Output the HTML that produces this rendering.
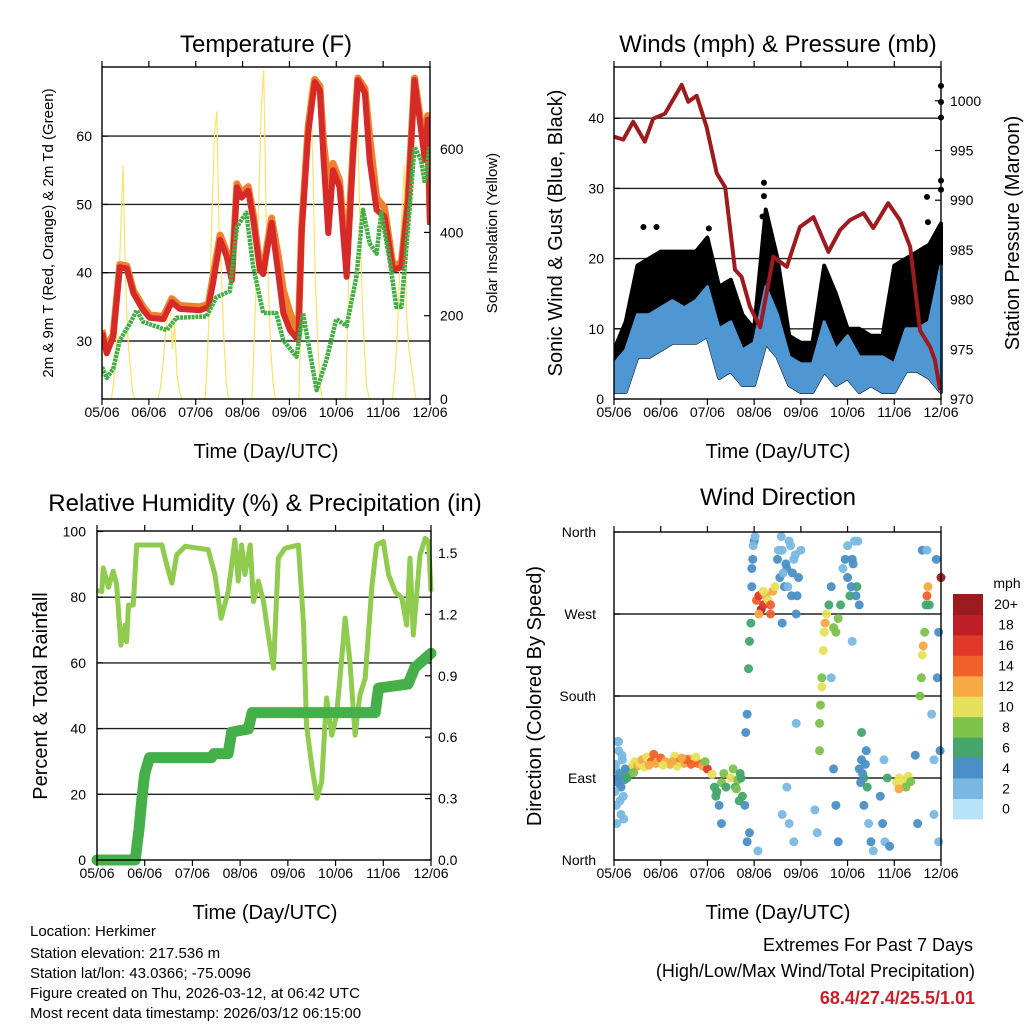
<!DOCTYPE html>
<html><head><meta charset="utf-8">
<style>
html,body{margin:0;padding:0;background:#fff;}
svg{display:block;font-family:"Liberation Sans",sans-serif;}
</style></head>
<body>
<svg id="chart" width="1024" height="1024" viewBox="0 0 1024 1024" xmlns="http://www.w3.org/2000/svg">
<rect x="0" y="0" width="1024" height="1024" fill="#fff"/>
<g id="layer"></g>
<text x="266" y="52" font-size="24" text-anchor="middle">Temperature (F)</text>
<text x="778" y="52" font-size="24" text-anchor="middle">Winds (mph) &amp; Pressure (mb)</text>
<text x="265" y="511" font-size="24" text-anchor="middle">Relative Humidity (%) &amp; Precipitation (in)</text>
<text x="778" y="505" font-size="24" text-anchor="middle">Wind Direction</text>
<text x="266" y="458" font-size="20" text-anchor="middle">Time (Day/UTC)</text>
<text x="778" y="458" font-size="20" text-anchor="middle">Time (Day/UTC)</text>
<text x="265" y="919" font-size="20" text-anchor="middle">Time (Day/UTC)</text>
<text x="778" y="919" font-size="20" text-anchor="middle">Time (Day/UTC)</text>
<text transform="translate(53,233) rotate(-90)" font-size="15" text-anchor="middle">2m &amp; 9m T (Red, Orange) &amp; 2m Td (Green)</text>
<text transform="translate(497,233) rotate(-90)" font-size="15" text-anchor="middle">Solar Insolation (Yellow)</text>
<text transform="translate(562,233) rotate(-90)" font-size="20" text-anchor="middle">Sonic Wind &amp; Gust (Blue, Black)</text>
<text transform="translate(1019,233) rotate(-90)" font-size="20" text-anchor="middle">Station Pressure (Maroon)</text>
<text transform="translate(47,696) rotate(-90)" font-size="20" text-anchor="middle">Percent &amp; Total Rainfall</text>
<text transform="translate(541,696) rotate(-90)" font-size="20" text-anchor="middle">Direction (Colored By Speed)</text>
<g font-size="15">
<text x="30" y="936">Location: Herkimer</text>
<text x="30" y="958">Station elevation: 217.536 m</text>
<text x="30" y="978">Station lat/lon: 43.0366; -75.0096</text>
<text x="30" y="998">Figure created on Thu, 2026-03-12, at 06:42 UTC</text>
<text x="30" y="1018">Most recent data timestamp: 2026/03/12 06:15:00</text>
</g>
<text x="973" y="951" font-size="18" text-anchor="end">Extremes For Past 7 Days</text>
<text x="975" y="977" font-size="18" text-anchor="end">(High/Low/Max Wind/Total Precipitation)</text>
<text x="975" y="1004" font-size="18" font-weight="bold" fill="#c8202a" text-anchor="end">68.4/27.4/25.5/1.01</text>
</svg>
<script>
const dayLabels=["05/06","06/06","07/06","08/06","09/06","10/06","11/06","12/06"];
const tempTicks=[30,40,50,60];
const solarTicks=[0,200,400,600];
const windTicks=[0,10,20,30,40];
const pressTicks=[970,975,980,985,990,995,1000];
const rhTicks=[0,20,40,60,80,100];
const rainTicks=[0.0,0.3,0.6,0.9,1.2,1.5];
const rainTickLabels=["0.0","0.3","0.6","0.9","1.2","1.5"];
const dirTicks=[0,90,180,270,360];
const dirTickLabels=["North","East","South","West","North"];
const speedBins=["0","2","4","6","8","10","12","14","16","18","20+"];
const speedColors=["#b6e3f8","#7ab8e3","#4b8fc6","#45a56b","#7cc24b","#e6e05a","#f7a944","#f0612b","#e0382b","#c01e27","#9b1b1e"];

const redT=[0,0.10,0.24,0.38,0.53,0.67,0.88,1.02,1.31,1.49,1.66,2.09,2.27,2.37,2.52,2.66,2.77,2.88,2.98,3.12,3.23,3.37,3.44,3.62,3.76,3.87,4.01,4.19,4.26,4.40,4.54,4.65,4.73,4.83,4.93,5.07,5.22,5.36,5.46,5.61,5.71,5.86,6.03,6.21,6.39,6.53,6.67,6.78,6.89,6.95,7.0];
const redV=[31.2,28.2,30.6,40.8,40.6,37,34.5,33.4,33.2,35.7,34.7,34.5,35,38.5,44.8,42.4,38.9,52.5,51,52,47.7,40.4,39.8,47.3,40,34.1,31.6,30.1,45.8,60.5,67.9,66.7,56.5,45.8,55,52.5,39.4,57.5,68.2,66.3,56.5,49.2,48.2,40.4,40.8,50.2,68.2,62.4,56.5,62.4,47];
const orangeV=[31.6,28.8,31,41.2,41,37.4,35,33.8,33.6,36.2,35.2,35,35.4,39.5,45.5,43,39.5,53,51.6,52.6,48.5,41,40.5,48,42.5,37.5,34.2,31,46.5,61.5,68.3,67.3,59,53,56,53.5,41,58.5,68.5,67,60,51,49.5,41,41.5,51,68.5,63.2,58,63,48];
const dewT=[0,0.10,0.24,0.38,0.60,0.74,0.88,1.38,1.59,2.23,2.44,2.73,2.88,3.08,3.23,3.44,3.72,3.87,4.15,4.29,4.58,4.79,5.00,5.22,5.43,5.57,5.71,5.86,5.96,6.14,6.28,6.39,6.53,6.67,6.81,6.89,6.99];
const dewV=[26.2,24.6,25.9,30.1,32.6,34.5,32.8,31.6,33.4,33.6,36.4,37.3,46.7,48.8,40.8,34.1,34.1,30.1,27.7,34.1,22.8,27.2,33.2,32.2,39.4,49.2,44.3,42.8,48.8,41.8,35,35,46.5,58.4,56.5,53.1,58.4];
const solarDay0=[0,40,120,250,400,560,300,150,80,20,0];
const solarDay1=[0,30,80,150,200,250,120,180,60,20,0];
const solarDay2=[0,100,250,450,640,690,400,300,150,40,0];
const solarDay3=[0,150,300,500,700,790,450,280,120,40,0];
const solarDay4=[0,200,400,600,720,760,550,300,150,40,0];
const solarDay5=[0,220,450,650,770,700,450,250,120,30,0];
const solarDay6=[0,60,150,300,450,560,200,120,80,40,0];
const solarDays=[solarDay0,solarDay1,solarDay2,solarDay3,solarDay4,solarDay5,solarDay6];

const pressT=[0,0.2,0.41,0.66,0.84,1.09,1.45,1.59,1.77,1.98,2.2,2.38,2.59,2.73,2.91,3.13,3.41,3.7,3.98,4.27,4.59,4.84,5.05,5.34,5.55,5.87,6.12,6.34,6.55,6.77,6.87,6.98];
const pressV=[996.4,996.1,997.9,995.9,998.2,998.7,1001.6,999.9,1000.5,997.4,992.7,991.3,983,982.3,979.3,977.2,984.3,983.3,987.3,988.3,984.8,987,988,988.7,987.2,989.7,988,985.3,976.9,975.2,973.9,970.9];
const windT=[0,0.25,0.5,0.75,1,1.25,1.5,1.75,2,2.25,2.5,2.75,3,3.25,3.5,3.75,4,4.25,4.5,4.75,5,5.25,5.5,5.75,6,6.25,6.5,6.75,7];
const windHi=[5,7,12,12,13,14,13,14,16,10,11,7,8,16,12,6,5,5,11,7,9,6,6,6,5,10,10,11,19];
const windLo=[1,1,6,6,7,8,8,8,9,3,4,2,2,8,6,2,1,1,4,2,3,1,2,1,1,4,4,3,1];
const gustHi=[7,11,19,20,21,21,21,21,23,16,17,12,10,27,20,9,8,8,19,15,10,10,9,9,19,20,21,22,25];
const gustDotT=[0.63,0.91,2.03,3.21,3.21,3.18,6.7,6.72,6.8,7.0,7.0,7.0,7.0,7.0];
const gustDotV=[24.5,24.5,24.3,30.8,28.9,26,28.8,25.2,22,44.6,42.3,40.1,31.1,29.8];

const rhT=[0,0.1,0.13,0.24,0.34,0.41,0.50,0.59,0.62,0.66,0.76,0.83,1.36,1.46,1.57,1.67,1.85,2.33,2.47,2.6,2.75,2.89,2.96,3.03,3.1,3.21,3.28,3.38,3.49,3.59,3.7,3.8,3.94,4.22,4.33,4.39,4.5,4.61,4.71,4.81,4.92,5.02,5.13,5.2,5.3,5.41,5.51,5.62,5.76,5.86,6.0,6.11,6.25,6.39,6.49,6.56,6.63,6.77,6.88,6.95,7.0];
const rhV=[82,81.7,88.9,83,87.9,84,65.4,71.5,66.5,77.6,77.6,95.9,95.9,89.8,84.3,92.9,95.5,94.5,86.9,73.6,81.7,97.4,84.9,95.9,86.9,95.9,78.7,84.9,78.7,68.5,58.4,91.9,94.9,95.9,71.5,41.1,28.9,18.8,23.9,49.3,38,44,61.5,73.6,60.5,38,50.2,55.3,83,95.9,97,86.9,81.7,79.7,71.5,91.9,68.5,92.9,97.9,97,81.7];
const rainT=[0,0.8,0.88,0.94,1.0,1.1,2.4,2.45,2.75,2.82,3.17,3.25,5.83,5.9,6.52,6.66,7.0];
const rainV=[0,0,0.15,0.3,0.42,0.5,0.5,0.52,0.52,0.625,0.64,0.72,0.72,0.84,0.86,0.94,1.01];

const dirT=[0.03,0.05,0.08,0.1,0.12,0.15,0.18,0.2,0.22,0.25,0.06,0.1,0.15,0.28,
0.35,0.4,0.45,0.5,0.55,0.6,0.7,0.8,0.9,1.0,1.1,1.2,1.3,1.4,1.5,1.6,1.7,1.8,1.9,2.0,2.1,0.42,0.65,0.85,1.05,1.35,1.55,1.75,0.75,1.25,1.45,1.65,1.95,
2.2,2.25,2.3,2.35,2.4,2.5,2.55,2.6,2.7,2.75,2.3,2.65,
2.8,2.82,2.85,2.88,2.9,2.93,2.95,2.97,3.0,2.85,2.9,
3.05,3.1,3.15,3.2,3.25,3.3,3.35,3.4,3.45,3.1,3.2,3.35,
3.5,3.55,3.6,3.65,3.7,3.75,3.8,3.85,3.9,3.95,4.0,3.6,3.7,3.75,3.85,3.9,3.6,
4.4,4.42,4.45,4.48,4.5,4.52,4.55,4.45,4.4,
4.6,4.65,4.7,4.75,4.8,4.85,4.9,4.7,4.75,4.8,4.65,
5.0,5.05,5.1,5.15,5.2,5.25,5.1,
5.25,5.3,5.35,5.4,5.35,5.45,5.5,5.3,5.55,
5.7,5.75,5.8,5.85,
6.05,6.1,6.15,6.2,6.25,6.3,6.35,6.1,
6.5,6.55,6.58,6.6,6.62,6.65,6.68,6.7,6.72,6.6,6.75,6.8,6.85,6.9,6.95,7.0,6.95,
0.02,0.04,0.07,0.09,0.13,0.17,0.21,0.24,2.15,2.18,2.62,2.68,2.72,2.95,2.98,3.02,3.08,3.52,3.58,3.62,3.68,3.72,3.78,3.82,3.88,3.92,4.3,4.35,4.95,5.0,5.08,5.12,5.18,5.22,5.28,5.32,5.38,5.42,5.78,5.9,6.45,6.7,6.85,6.92,6.98];
const dirD=[100,60,85,120,95,80,110,70,88,95,40,130,50,90,
100,104,108,103,106,110,113,108,106,112,108,105,114,108,106,111,108,106,103,100,94,96,102,116,104,103,110,113,104,108,112,105,108,
75,60,85,95,80,90,100,80,95,70,40,88,
60,140,160,210,240,260,300,330,350,20,30,
285,290,275,280,290,285,280,295,300,270,295,270,
330,310,340,300,320,350,290,330,270,310,340,260,80,40,20,150,50,
150,170,200,230,250,260,270,190,120,
280,300,255,250,265,280,320,100,60,20,200,
310,290,330,350,300,280,240,
100,110,90,120,60,40,20,140,10,
70,40,20,90,
85,90,82,88,80,92,86,78,
40,180,200,225,235,250,280,290,300,340,280,160,110,330,250,310,20,
75,105,130,90,65,115,45,100,80,70,78,65,90,320,345,355,10,340,355,315,325,300,345,315,335,290,55,30,330,345,300,325,290,350,85,95,105,80,110,15,115,340,50,200,120];
const dirS=[2,2,3,1,4,3,2,2,4,5,2,1,2,6,
8,9,10,11,9,12,10,14,12,13,11,12,10,13,12,11,10,14,12,15,9,7,10,13,10,10,14,9,12,11,12,13,8,
6,4,7,8,6,10,7,6,6,5,4,8,
4,4,4,5,6,6,4,3,4,4,4,
14,15,18,16,12,10,14,11,9,12,10,13,
3,4,2,4,3,2,3,2,4,3,2,3,2,2,2,2,2,
7,7,8,9,10,12,9,10,7,
5,4,7,7,8,6,2,4,3,3,2,
4,5,3,2,5,4,2,
4,4,5,3,3,2,3,5,2,
4,3,2,6,
9,10,9,10,8,9,7,11,
3,7,7,9,11,8,6,14,12,3,6,2,2,3,4,20,2,
2,2,1,3,2,2,1,3,6,5,7,6,5,3,2,1,2,2,1,2,3,2,1,3,2,3,2,2,3,2,4,3,4,2,4,4,3,5,2,3,3,2,2,3,4];

const NS="http://www.w3.org/2000/svg";
const layer=document.getElementById('layer');
function mk(tag,attrs,parent){const e=document.createElementNS(NS,tag);for(const k in attrs)e.setAttribute(k,attrs[k]);(parent||layer).appendChild(e);return e;}
function polyPts(ts,vs,xf,yf){return ts.map((t,i)=>xf(t).toFixed(1)+","+yf(vs[i]).toFixed(1)).join(" ");}

const P1={x0:102,x1:430,y0:67,y1:399};
const P2={x0:614,x1:941,y0:67,y1:399};
const P3={x0:97,x1:431,y0:531,y1:860};
const P4={x0:614,x1:941,y0:532,y1:860};
const x1f=d=>P1.x0+d*(P1.x1-P1.x0)/7;
const x2f=d=>P2.x0+d*(P2.x1-P2.x0)/7;
const x3f=d=>P3.x0+d*(P3.x1-P3.x0)/7;
const x4f=d=>P4.x0+d*(P4.x1-P4.x0)/7;
const tY=v=>341-(v-30)*6.83;
const sY=v=>399-v*0.4165;
const wY=v=>399-v*7.02;
const pY=v=>399-(v-970)*9.94;
const rhY=v=>860-v*3.285;
const rnY=v=>860-v*204.7;
const dY=v=>860-v*(328/360);

function frame(P,name){
  const g=mk('g',{});
  
  
  return g;
}
function xTicks(P,xf,labelY,g){
  dayLabels.forEach((lb,i)=>{
    const x=xf(i);
    mk('line',{x1:x,y1:P.y1,x2:x,y2:P.y1+6,stroke:"#000","stroke-width":1.2},g);
    mk('line',{x1:x,y1:P.y0,x2:x,y2:P.y0-6,stroke:"#000","stroke-width":1.2},g);
    const t=mk('text',{x:x,y:labelY,"font-size":14,"text-anchor":"middle"},g);
    t.textContent=lb;
    
    
  });
}
function yTicks(ticks,labels,yf,x,side,g,grid,P,fs){
  ticks.forEach((v,i)=>{
    const y=yf(v);
    if(grid && y>P.y0+2 && y<P.y1-2) mk('line',{x1:P.x0,y1:y,x2:P.x1,y2:y,stroke:"#222","stroke-width":1.4},g);
    const tx=side==='l'?P.x0:P.x1;
    mk('line',{x1:tx,y1:y,x2:side==='l'?tx+6:tx-6,y2:y,stroke:"#000","stroke-width":1.2},g);
    const t=mk('text',{x:x,y:y+5,"font-size":fs||14,"text-anchor":side==='l'?"end":"start"},g);
    t.textContent=labels[i];
    
    
  });
}
function border(P,g){mk('rect',{x:P.x0,y:P.y0,width:P.x1-P.x0,height:P.y1-P.y0,fill:"none",stroke:"#000","stroke-width":1.4},g);}

{
  const g=frame(P1,'temperature-panel');
  yTicks(tempTicks,tempTicks.map(String),tY,92,'l',g,true,P1);
  yTicks(solarTicks,solarTicks.map(String),sY,440,'r',g,false,P1);
  const cl=mk('clipPath',{id:'c1'},g);mk('rect',{x:P1.x0,y:P1.y0,width:P1.x1-P1.x0,height:P1.y1-P1.y0},cl);
  const pg=mk('g',{'clip-path':'url(#c1)'},g);
  solarDays.forEach((arr,d)=>{
    const ts=arr.map((v,k)=>d+0.2+k*0.05);
    const l=mk('polyline',{points:polyPts(ts,arr,x1f,sY),fill:"none",stroke:"#fbe26a","stroke-width":1.2},pg);
    
    
  });
  const o=mk('polyline',{points:polyPts(redT,orangeV,x1f,tY),fill:"none",stroke:"#f0802e","stroke-width":7,"stroke-linejoin":"round"},pg);
  
  
  const r=mk('polyline',{points:polyPts(redT,redV,x1f,tY),fill:"none",stroke:"#d52a27","stroke-width":6,"stroke-linejoin":"round"},pg);
  
  
  const gr=mk('polyline',{points:polyPts(dewT,dewV,x1f,tY),fill:"none",stroke:"#44ad44","stroke-width":4.5,"stroke-dasharray":"3 0.8","stroke-linejoin":"round"},pg);
  
  
  border(P1,g);
  xTicks(P1,x1f,417,g);
}
{
  const g=frame(P2,'winds-panel');
  yTicks(windTicks,windTicks.map(String),wY,604,'l',g,true,P2);
  yTicks(pressTicks,pressTicks.map(String),pY,950,'r',g,false,P2);
  const cl=mk('clipPath',{id:'c2'},g);mk('rect',{x:P2.x0,y:P2.y0-10,width:P2.x1-P2.x0+6,height:P2.y1-P2.y0+10},cl);
  const pg=mk('g',{'clip-path':'url(#c2)'},g);
  const gustPts=polyPts(windT,gustHi,x2f,wY)+" "+polyPts(windT.slice().reverse(),windLo.slice().reverse(),x2f,wY);
  const ga=mk('polygon',{points:gustPts,fill:"#000",stroke:"#000","stroke-width":4,"stroke-linejoin":"round"},pg);
  
  
  gustDotT.forEach((t,i)=>{
    const c=mk('circle',{cx:x2f(t),cy:wY(gustDotV[i]),r:3,fill:"#000"},pg);
    
    
  });
  const windPts=polyPts(windT,windHi,x2f,wY)+" "+polyPts(windT.slice().reverse(),windLo.slice().reverse(),x2f,wY);
  const wa=mk('polygon',{points:windPts,fill:"#4e97d3",stroke:"#4e97d3","stroke-width":3,"stroke-linejoin":"round"},pg);
  
  
  const p=mk('polyline',{points:polyPts(pressT,pressV,x2f,pY),fill:"none",stroke:"#9b1b1e","stroke-width":4,"stroke-linejoin":"round"},pg);
  
  
  border(P2,g);
  xTicks(P2,x2f,417,g);
}
{
  const g=frame(P3,'humidity-panel');
  yTicks(rhTicks,rhTicks.map(String),rhY,86,'l',g,true,P3);
  yTicks(rainTicks,rainTickLabels,rnY,438,'r',g,false,P3);
  const cl=mk('clipPath',{id:'c3'},g);mk('rect',{x:P3.x0-8,y:P3.y0,width:P3.x1-P3.x0+16,height:P3.y1-P3.y0+8},cl);
  const pg=mk('g',{'clip-path':'url(#c3)'},g);
  const rh=mk('polyline',{points:polyPts(rhT,rhV,x3f,rhY),fill:"none",stroke:"#8fcb4e","stroke-width":5,"stroke-linejoin":"round"},pg);
  
  
  const rn=mk('polyline',{points:polyPts(rainT,rainV,x3f,rnY),fill:"none",stroke:"#45b04a","stroke-width":11,"stroke-linejoin":"round","stroke-linecap":"round"},pg);
  
  
  border(P3,g);
  xTicks(P3,x3f,878,g);
}
{
  const g=frame(P4,'direction-panel');
  yTicks(dirTicks,dirTickLabels,dY,596,'l',g,true,P4);
  const cl=mk('clipPath',{id:'c4'},g);mk('rect',{x:P4.x0,y:P4.y0-6,width:P4.x1-P4.x0+6,height:P4.y1-P4.y0+6},cl);
  const pg=mk('g',{'clip-path':'url(#c4)'},g);
  dirT.forEach((t,i)=>{
    const s=dirS[i];
    const bi=Math.min(10,Math.floor((s+1)/2));
    const c=mk('circle',{cx:x4f(t),cy:dY(dirD[i]),r:4.5,fill:speedColors[bi],opacity:0.95},pg);
    
    
  });
  border(P4,g);
  xTicks(P4,x4f,878,g);
  const cb=mk('g',{});
  
  
  const cbTop=594,cbH=20.45;
  const mt=mk('text',{x:1007,y:588,"font-size":14,"text-anchor":"middle"},cb);mt.textContent="mph";
  speedBins.forEach((lb,i)=>{
    const y=cbTop+(10-i)*cbH;
    const r=mk('rect',{x:953,y:y,width:30,height:cbH+0.5,fill:speedColors[i]},cb);
    
    
    const t=mk('text',{x:1006,y:y+cbH/2+5,"font-size":14,"text-anchor":"middle"},cb);
    t.textContent=lb;
    
    
  });
}
</script>
</body></html>
